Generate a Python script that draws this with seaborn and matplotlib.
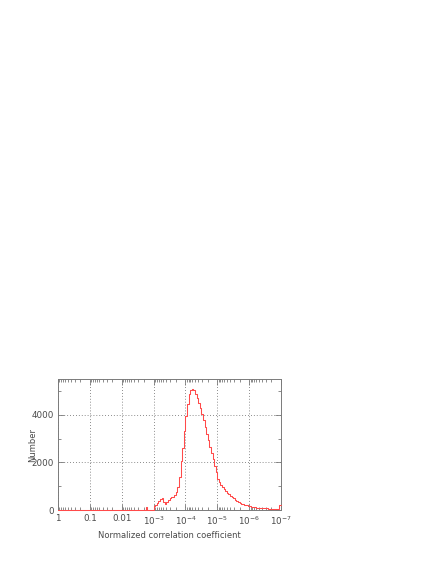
import numpy as np
import pandas as pd
import matplotlib
matplotlib.use("Agg")
import matplotlib.pyplot as plt
import seaborn as sns
from matplotlib.ticker import LogLocator, MultipleLocator, NullFormatter

# ---- data ----
# histogram bins in log10(coefficient), 20 bins per decade, from 10^0 down to 10^-7
log_bin_start = 0.0
log_bin_stop = -7.0

# counts per bin, ordered from coefficient 1 (left) towards 1e-7 (right)
counts = (
    [0] * 55
    + [120]
    + [0, 0, 0, 0]
    + [150, 220, 300, 380, 470, 500, 320, 260, 320, 400,
       520, 540, 560, 620, 750, 950, 1400, 2050, 2600, 3300,
       3950, 4450, 4850, 5030, 5090, 5030, 4870, 4700, 4500, 4270,
       4030, 3780, 3480, 3200, 2920, 2650, 2400, 2150, 1850, 1580,
       1300, 1180, 1070, 960, 870, 800, 720, 660, 600, 540,
       490, 440, 390, 340, 305, 270, 240, 210, 190, 170,
       150, 135, 120, 110, 100, 95, 90, 85, 80, 75,
       70, 65, 60, 55, 50, 45, 42, 40, 38, 200]
)

xtick_values = [1, 0.1, 0.01, 1e-3, 1e-4, 1e-5, 1e-6, 1e-7]
xtick_labels = ["1", "0.1", "0.01", "$10^{-3}$", "$10^{-4}$", "$10^{-5}$", "$10^{-6}$", "$10^{-7}$"]
ytick_values = [0, 2000, 4000]
ytick_labels = ["0", "2000", "4000"]

x_label = "Normalized correlation coefficient"
y_label = "Number"

# ---- derived ----
n_bins = len(counts)
log_edges = np.linspace(log_bin_stop, log_bin_start, n_bins + 1).tolist()  # increasing
step = (log_bin_start - log_bin_stop) / n_bins
log_centers = log_bin_start - step * (np.arange(n_bins) + 0.5)
df = pd.DataFrame({"coef": 10.0 ** log_centers, "count": counts})

sns.set_style("ticks")
plt.rcParams["font.family"] = ["DejaVu Sans"]

fig = plt.figure(figsize=(4.36, 5.64), dpi=100)
ax = fig.add_axes([58 / 436, 1 - 510 / 564, (281 - 58) / 436, (510 - 379) / 564])

sns.histplot(data=df, x="coef", weights="count", bins=log_edges, log_scale=True,
             element="step", fill=False, color="#ff4a4a", linewidth=0.75,
             clip_on=False, zorder=3, ax=ax)

ax.set_xlim(1, 1e-7)
ax.set_ylim(0, 5500)

txt_color = "#4a4a4a"
spine_color = "#7a7a7a"

ax.set_xticks(xtick_values)
ax.set_xticklabels(xtick_labels)
ax.xaxis.set_minor_locator(LogLocator(base=10, subs=np.arange(2, 10), numticks=20))
ax.xaxis.set_minor_formatter(NullFormatter())
ax.set_yticks(ytick_values)
ax.set_yticklabels(ytick_labels)
ax.yaxis.set_minor_locator(MultipleLocator(1000))

ax.tick_params(which="both", direction="in", top=True, right=True,
               color=spine_color, width=0.6, labelsize=6.3, labelcolor=txt_color, pad=3)
ax.tick_params(which="major", length=4)
ax.tick_params(which="minor", length=2)

for s in ax.spines.values():
    s.set_color(spine_color)
    s.set_linewidth(0.7)

ax.grid(True, which="major", linestyle=(0, (1, 2.5)), color="#666666", linewidth=0.6)
ax.set_axisbelow(True)

ax.set_xlabel(x_label, fontsize=6.0, color=txt_color, labelpad=3)
ax.set_ylabel(y_label, fontsize=6.0, color=txt_color)
ax.yaxis.set_label_coords(-0.095, 0.5)

fig.savefig("out.png", dpi=100)
